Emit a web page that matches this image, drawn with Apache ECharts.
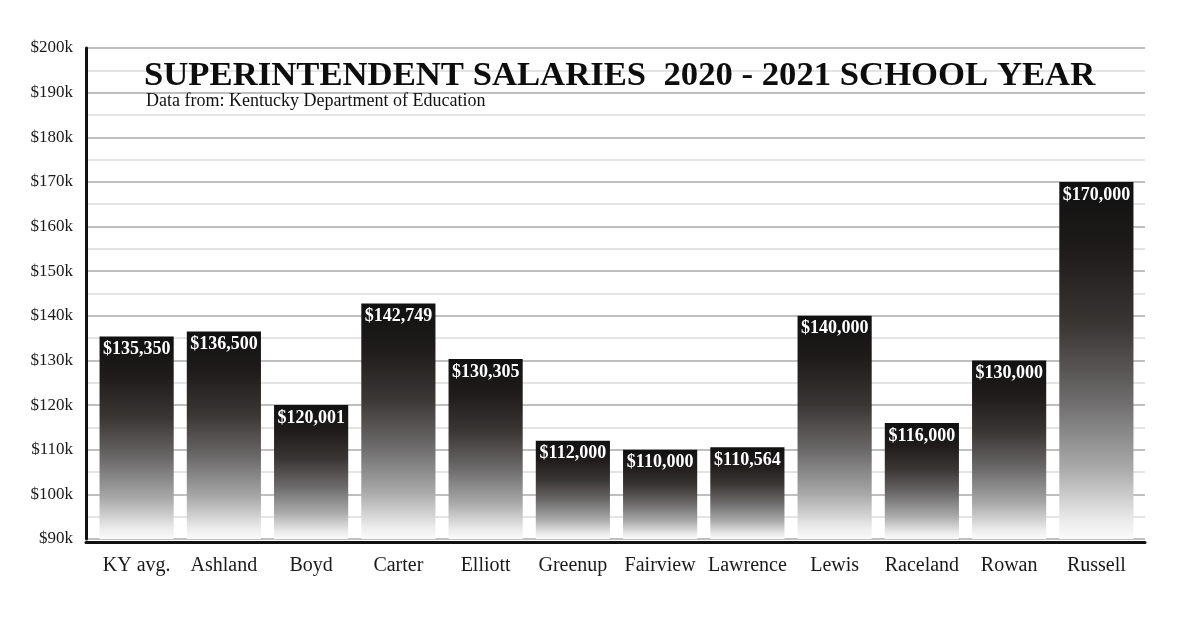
<!DOCTYPE html>
<html><head><meta charset="utf-8">
<script src="https://cdn.jsdelivr.net/npm/echarts@6/dist/echarts.min.js"></script>
<style>html,body{margin:0;padding:0;background:#fff}#c{width:1200px;height:617px}</style>
</head><body><div id="c"></div>
<script>
const categories = ['KY avg.','Ashland','Boyd','Carter','Elliott','Greenup','Fairview','Lawrence','Lewis','Raceland','Rowan','Russell'];
const salaries = [135350,136500,120001,142749,130305,112000,110000,110564,140000,116000,130000,170000];
const titleText = 'SUPERINTENDENT SALARIES  2020 - 2021 SCHOOL YEAR';
const subtitleText = 'Data from: Kentucky Department of Education';

const serif = '"Liberation Serif","Times New Roman",serif';
const chart = echarts.init(document.getElementById('c'));
chart.setOption({
  backgroundColor:'#fff',
  animation:false,
  title:[
    {text:titleText,left:139,top:54,textStyle:{fontFamily:serif,fontWeight:'bold',fontSize:34.7,color:'#0d0d0d'}},
    {text:subtitleText,left:141,top:87,textStyle:{fontFamily:serif,fontWeight:'normal',fontSize:18,color:'#111'}}
  ],
  grid:[
    {left:86,right:55,top:48,bottom:78,containLabel:false},
    {left:93,right:60,top:48,bottom:78,containLabel:false}
  ],
  xAxis:[
    {type:'category',gridIndex:0,data:categories,offset:3,
      axisLine:{lineStyle:{color:'#111',width:3}},axisTick:{show:false},axisLabel:{show:false}},
    {type:'category',gridIndex:1,data:categories,offset:3,
      axisLine:{show:false},axisTick:{show:false},
      axisLabel:{interval:0,fontFamily:serif,fontSize:20,color:'#1a1a1a',margin:14}}
  ],
  yAxis:[
    {type:'value',gridIndex:0,min:90000,max:200000,interval:10000,
      axisLine:{show:true,lineStyle:{color:'#111',width:3}},
      axisTick:{show:false},
      axisLabel:{fontFamily:serif,fontSize:17,color:'#1a1a1a',margin:13,formatter:v=>'$'+(v/1000)+'k'},
      splitLine:{show:true,lineStyle:{color:'#aaaaaa',width:1.5}},
      minorTick:{show:false,splitNumber:2},
      minorSplitLine:{show:true,lineStyle:{color:'#dcdcdc',width:1.5}}},
    {type:'value',gridIndex:1,min:90000,max:200000,interval:10000,
      axisLine:{show:false},axisTick:{show:false},axisLabel:{show:false},splitLine:{show:false}}
  ],
  series:[{
    type:'bar',xAxisIndex:1,yAxisIndex:1,data:salaries,barCategoryGap:'15%',
    itemStyle:{color:new echarts.graphic.LinearGradient(0,0,0,1,[
      {offset:0,color:'#111111'},{offset:0.2,color:'#1f1c1b'},{offset:0.4,color:'#3a3634'},
      {offset:0.6,color:'#6a6868'},{offset:0.8,color:'#a9a9a9'},{offset:0.95,color:'#ececec'},{offset:1,color:'#fafafa'}
    ])},
    label:{show:true,position:'insideTop',distance:4,color:'#fff',fontFamily:serif,fontWeight:'bold',fontSize:18,
      formatter:p=>'$'+p.value.toLocaleString('en-US')}
  }]
});
</script></body></html>
